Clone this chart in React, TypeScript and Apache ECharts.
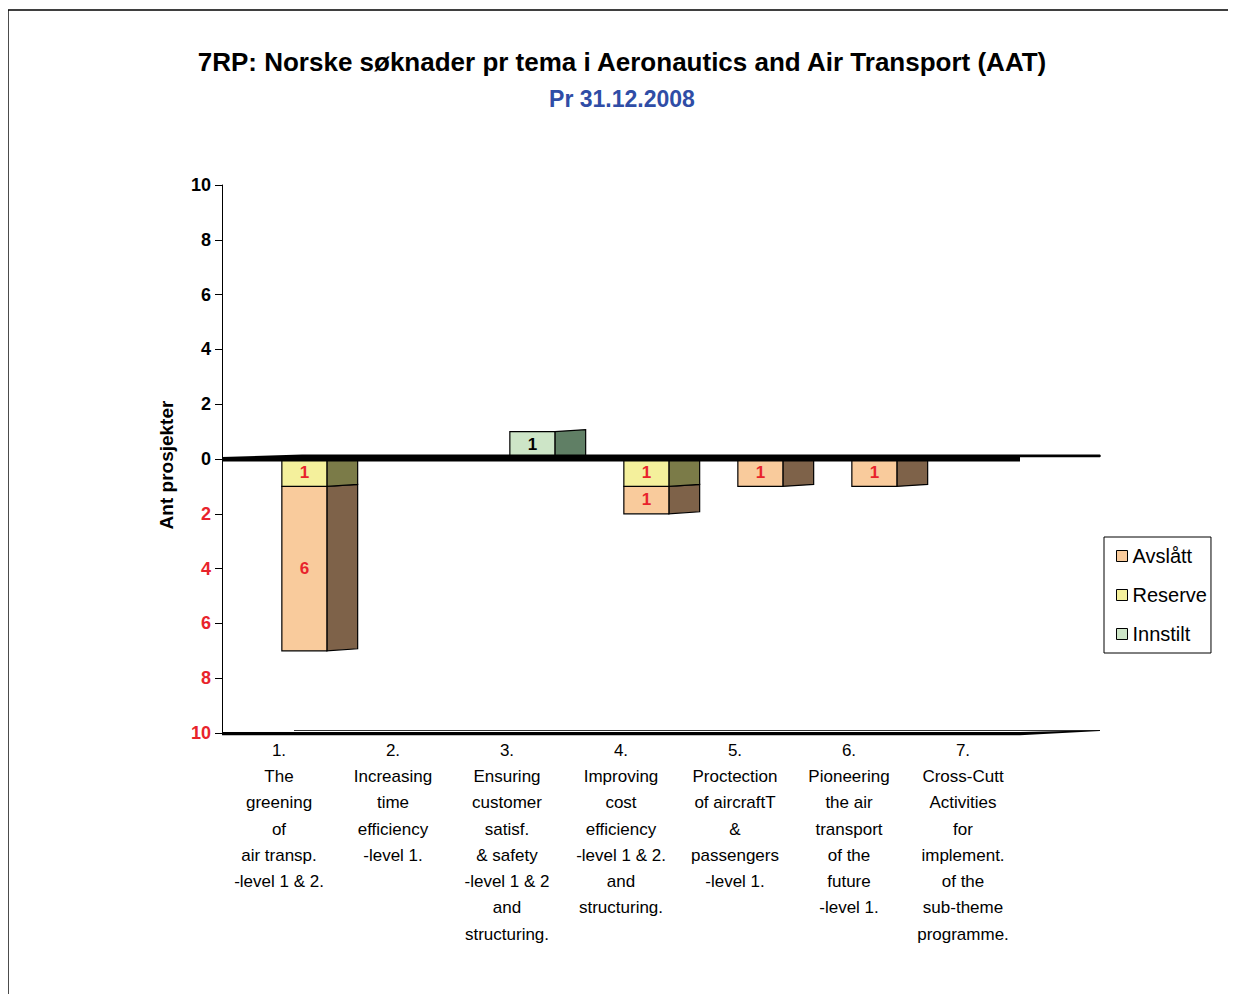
import React, { useEffect, useRef } from 'react';
import * as echarts from 'echarts';

const categories = [
  '1.\nThe\ngreening\nof\nair transp.\n-level 1 & 2.',
  '2.\nIncreasing\ntime\nefficiency\n-level 1.',
  '3.\nEnsuring\ncustomer\nsatisf.\n& safety\n-level 1 & 2\nand\nstructuring.',
  '4.\nImproving\ncost\nefficiency\n-level 1 & 2.\nand\nstructuring.',
  '5.\nProctection\nof aircraftT\n&\npassengers\n-level 1.',
  '6.\nPioneering\nthe air\ntransport\nof the\nfuture\n-level 1.',
  '7.\nCross-Cutt\nActivities\nfor\nimplement.\nof the\nsub-theme\nprogramme.',
];
const avslatt = [6, 0, 0, 1, 1, 1, 0];
const reserve = [1, 0, 0, 1, 0, 0, 0];
const innstilt = [0, 0, 1, 0, 0, 0, 0];

const Y_MIN = -10;
const Y_MAX = 10;
const Y_STEP = 2;

const FONT = '"Liberation Sans", Arial, sans-serif';
const RED = '#E8232B';

const COLORS = {
  Avslått: { front: '#F9CB9C', side: '#7E6249' },
  Reserve: { front: '#F4F09C', side: '#7B7B48' },
  Innstilt: { front: '#CDE5C7', side: '#607F65' },
};

function makeRender(front: string, side: string, labelColor: string) {
  return (params: any, api: any) => {
    const idx = api.value(0);
    const start = api.value(1);
    const end = api.value(2);
    const count = api.value(3);
    if (!count) return null;
    const bw = api.size([1, 0])[0];
    const pS = api.coord([idx, start]);
    const pE = api.coord([idx, end]);
    const cx = pS[0];
    const x0 = cx + bw * 0.025;
    const x1 = cx + bw * 0.42;
    const x2 = cx + bw * 0.69;
    const top = Math.min(pS[1], pE[1]);
    const bot = Math.max(pS[1], pE[1]);
    return {
      type: 'group',
      children: [
        {
          type: 'polygon',
          shape: { points: [[x1, top], [x2, top - 2], [x2, bot - 2], [x1, bot]] },
          style: { fill: side, stroke: '#000', lineWidth: 1.2 },
        },
        {
          type: 'rect',
          shape: { x: x0, y: top, width: x1 - x0, height: bot - top },
          style: { fill: front, stroke: '#000', lineWidth: 1.2 },
        },
        {
          type: 'text',
          style: {
            text: String(count),
            x: (x0 + x1) / 2,
            y: (top + bot) / 2 - 0.5,
            align: 'center',
            verticalAlign: 'middle',
            fill: labelColor,
            font: `bold 17px ${FONT}`,
          },
        },
      ],
    };
  };
}

export default function App() {
  const ref = useRef<HTMLDivElement>(null);

  useEffect(() => {
    if (!ref.current) return;
    const chart = echarts.init(ref.current, null, { renderer: 'svg' });

    const reserveData = categories.map((_, i) => [i, 0, -reserve[i], reserve[i]]);
    const avslattData = categories.map((_, i) => [i, -reserve[i], -(reserve[i] + avslatt[i]), avslatt[i]]);
    const innstiltData = categories.map((_, i) => [i, 0, innstilt[i], innstilt[i]]);

    const option: any = {
      animation: false,
      backgroundColor: '#fff',
      title: {
        text: '7RP: Norske søknader pr tema i Aeronautics and Air Transport (AAT)',
        subtext: 'Pr 31.12.2008',
        left: 'center',
        top: 36,
        itemGap: 12,
        textStyle: { fontFamily: FONT, fontSize: 26, fontWeight: 'bold', color: '#000' },
        subtextStyle: { fontFamily: FONT, fontSize: 23, fontWeight: 'bold', color: '#2F4DA6' },
      },
      legend: {
        orient: 'vertical',
        left: 1096,
        top: 529,
        width: 107,
        padding: [9, 4, 9, 12],
        itemGap: 19,
        itemWidth: 11,
        itemHeight: 11,
        borderColor: '#000',
        borderWidth: 1,
        textStyle: { fontFamily: FONT, fontSize: 20, color: '#000' },
        data: [
          { name: 'Avslått', icon: 'rect', itemStyle: { color: COLORS['Avslått'].front, borderColor: '#000', borderWidth: 1 } },
          { name: 'Reserve', icon: 'rect', itemStyle: { color: COLORS['Reserve'].front, borderColor: '#000', borderWidth: 1 } },
          { name: 'Innstilt', icon: 'rect', itemStyle: { color: COLORS['Innstilt'].front, borderColor: '#000', borderWidth: 1 } },
        ],
      },
      grid: { left: 214, right: 216, top: 177, bottom: 261, containLabel: false },
      xAxis: {
        type: 'category',
        data: categories,
        boundaryGap: true,
        axisLine: { show: false, onZero: false },
        axisTick: { show: false },
        axisLabel: {
          interval: 0,
          margin: 4,
          fontFamily: FONT,
          fontSize: 17,
          lineHeight: 26.3,
          color: '#000',
          align: 'center',
          verticalAlign: 'top',
        },
      },
      yAxis: {
        type: 'value',
        min: Y_MIN,
        max: Y_MAX,
        interval: Y_STEP,
        splitLine: { show: false },
        axisLine: { show: true, lineStyle: { color: '#000', width: 1 } },
        axisTick: { show: true, length: 7, lineStyle: { color: '#000', width: 1 } },
        axisLabel: {
          margin: 11,
          fontFamily: FONT,
          fontSize: 18,
          fontWeight: 'bold',
          formatter: (v: number) => String(Math.abs(v)),
          color: (v: any) => (Number(v) < 0 ? RED : '#000'),
        },
      },
      series: [
        {
          name: 'Avslått',
          type: 'custom',
          renderItem: makeRender(COLORS['Avslått'].front, COLORS['Avslått'].side, RED),
          encode: { x: 0, y: [1, 2] },
          itemStyle: { color: COLORS['Avslått'].front },
          data: avslattData,
          z: 2,
        },
        {
          name: 'Reserve',
          type: 'custom',
          renderItem: makeRender(COLORS['Reserve'].front, COLORS['Reserve'].side, RED),
          encode: { x: 0, y: [1, 2] },
          itemStyle: { color: COLORS['Reserve'].front },
          data: reserveData,
          z: 2,
        },
        {
          name: 'Innstilt',
          type: 'custom',
          renderItem: makeRender(COLORS['Innstilt'].front, COLORS['Innstilt'].side, '#000'),
          encode: { x: 0, y: [1, 2] },
          itemStyle: { color: COLORS['Innstilt'].front },
          data: innstiltData,
          z: 2,
        },
      ],
    };
    chart.setOption(option);

    // Decorative 3D floor / wall edges, positioned from the axes
    const pZero = chart.convertToPixel({ gridIndex: 0 }, [0, 0]) as number[];
    const pMin = chart.convertToPixel({ gridIndex: 0 }, [0, Y_MIN]) as number[];
    const xL = chart.convertToPixel({ xAxisIndex: 0 }, 0) as number;
    const bandW = (chart.convertToPixel({ xAxisIndex: 0 }, 1) as number) - xL;
    const gridLeft = xL - bandW / 2;
    const gridRight = gridLeft + bandW * categories.length;
    const depth = 80;
    const yz = pZero[1];
    const yb = pMin[1];

    chart.setOption({
      graphic: [
        {
          type: 'rect',
          silent: true,
          z: 0,
          shape: { x: 0, y: 2, width: 1600, height: 1400 },
          style: { fill: 'none', stroke: '#000', lineWidth: 1.4 },
        },
        {
          type: 'text',
          silent: true,
          x: 158,
          y: 457,
          rotation: Math.PI / 2,
          style: {
            text: 'Ant prosjekter',
            align: 'center',
            verticalAlign: 'middle',
            font: `bold 19px ${FONT}`,
            fill: '#000',
          },
        },
        {
          type: 'polygon',
          silent: true,
          z: 10,
          shape: {
            points: [
              [gridLeft, yz - 2],
              [gridLeft + depth, yz - 4.5],
              [gridRight + depth, yz - 4.5],
              [gridRight + depth + 1, yz - 3],
              [gridRight + depth, yz - 1.8],
              [gridRight, yz - 1.8],
              [gridRight, yz + 2.5],
              [gridLeft, yz + 2.5],
            ],
          },
          style: { fill: '#000' },
        },
        {
          type: 'polygon',
          silent: true,
          z: 10,
          shape: {
            points: [
              [gridLeft, yb - 1],
              [gridRight, yb - 1],
              [gridRight + depth, yb - 2.8],
              [gridRight + depth, yb - 2],
              [gridRight, yb + 2.2],
              [gridLeft, yb + 2.2],
            ],
          },
          style: { fill: '#000' },
        },
        {
          type: 'line',
          silent: true,
          z: 10,
          shape: { x1: gridLeft + 72, y1: yb - 2.5, x2: gridRight + depth, y2: yb - 2.5 },
          style: { stroke: '#000', lineWidth: 0.8 },
        },
      ],
    });

    return () => chart.dispose();
  }, []);

  return <div ref={ref} style={{ width: 1228, height: 986 }} />;
}
